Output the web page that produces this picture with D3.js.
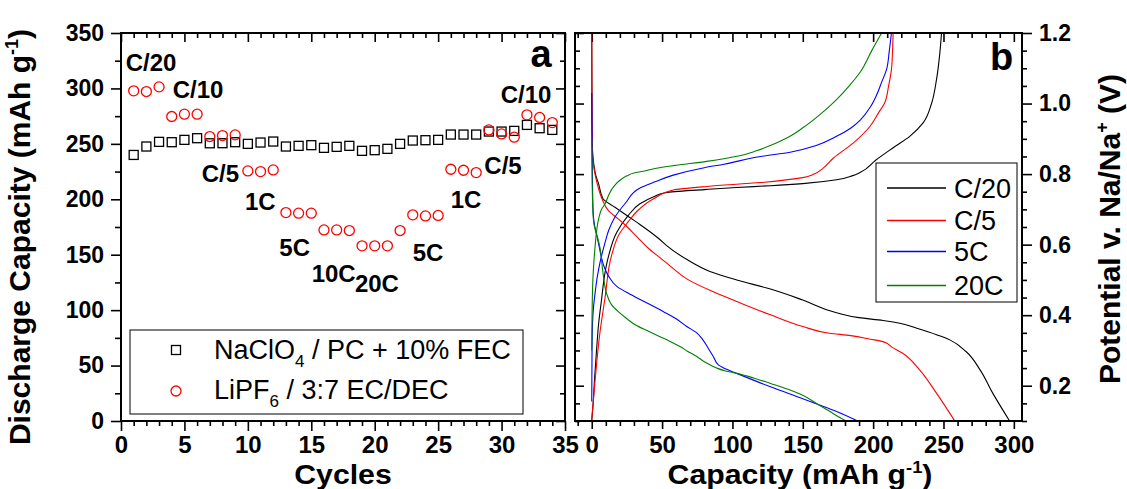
<!DOCTYPE html>
<html>
<head>
<meta charset="utf-8">
<script src="https://cdn.jsdelivr.net/npm/d3@7"></script>
<style>
  body { margin: 0; background: #fff; }
  svg { display: block; font-family: "Liberation Sans", Arial, sans-serif; }
</style>
</head>
<body>
<svg id="chart" width="1127" height="489"></svg>
<script>
// ---------- Panel a: discharge capacity vs cycle ----------
const cycles = [1,2,3,4,5,6,7,8,9,10,11,12,13,14,15,16,17,18,19,20,21,22,23,24,25,26,27,28,29,30,31,32,33,34];
const naClO4Capacity = [240, 247.6, 251.8, 251.5, 253.6, 255.1, 250.5, 250.6, 251.5, 250, 251.2, 252.1,
  247.6, 248.2, 248.8, 246.4, 247.3, 248.2, 243.7, 244.3, 245.5, 250, 253, 253.3, 253.6,
  258.4, 258.4, 258.4, 261.1, 261.1, 261.7, 267.1, 264.1, 262.6];
const liPF6Capacity = [297.8, 297.2, 301.4, 274.7, 276.8, 276.8, 256.6, 257.5, 258.1, 225.6, 225, 226.5,
  188, 187.5, 187.5, 172.4, 172.4, 171.8, 158, 158, 158, 171.8, 186, 185, 185.4,
  227.1, 226.2, 224.1, 262.6, 259, 256, 276.2, 273.8, 269.2];
const rateLabels = ["C/20", "C/10", "C/5", "1C", "5C", "10C", "20C", "5C", "1C", "C/5", "C/10"];
const rateLabelCycle = [0.37, 4.08, 6.36, 9.77, 12.48, 15.03, 18.44, 22.99, 25.99, 28.64, 29.93];
const rateLabelCapacity = [315.7, 291.4, 215.9, 190.0, 148.9, 125.1, 116.6, 144.6, 191.9, 222.8, 286.6];
const cycleTicks = [0, 5, 10, 15, 20, 25, 30, 35];
const capacityTicks = [0, 50, 100, 150, 200, 250, 300, 350];

// ---------- Panel b: potential profiles, [capacity, potential] ----------
const rateNames = ["C/20", "C/5", "5C", "20C"];
const rateColors = ["#000000", "#ff0000", "#0000ff", "#008000"];
const chargeC20 = [[0,0.1],[1,0.15],[2,0.22],[3.5,0.306],[5,0.38],[7.1,0.448],[9,0.51],[11.8,0.565],[17.8,0.635],
  [26,0.683],[34,0.715],[44,0.736],[53,0.748],[80,0.756],[103,0.762],[127,0.767],[150,0.773],[174,0.784],
  [185,0.795],[191,0.805],[202,0.84],[214,0.874],[226,0.907],[235.5,0.945],[241.5,1.0],[245,1.067],[247.4,1.143],[248.6,1.2]];
const dischargeC20 = [[0,1.2],[0.2,0.95],[0.5,0.87],[1.4,0.83],[3,0.795],[4.7,0.775],[8,0.73],[16.5,0.706],[27,0.677],
  [34,0.658],[48,0.616],[53,0.598],[68,0.557],[84,0.524],[103,0.5],[127,0.474],[150,0.443],[174,0.407],[190,0.393],
  [207,0.385],[219,0.377],[231,0.363],[254.5,0.33],[266,0.297],[276,0.245],[285,0.179],[297,0.1]];
const chargeC5 = [[0,0.105],[2.3,0.212],[5.9,0.353],[9.4,0.448],[14.2,0.571],[20,0.633],[26,0.665],[32,0.694],
  [44,0.73],[58,0.755],[82,0.765],[120,0.776],[141,0.785],[150,0.79],[158,0.8],[164.5,0.817],[171.6,0.845],
  [185.8,0.888],[197.7,0.935],[204,0.975],[208,1.0],[211,1.05],[213,1.096],[213.8,1.15],[214.2,1.2]];
const dischargeC5 = [[0,1.2],[0.2,0.95],[0.5,0.864],[1.2,0.826],[3.5,0.779],[7.1,0.732],[12,0.696],[16,0.682],
  [22,0.662],[32,0.623],[41,0.587],[48.5,0.563],[58,0.532],[67.5,0.503],[86,0.467],[103,0.439],[127,0.401],
  [150,0.368],[169,0.349],[184,0.342],[198,0.332],[207,0.325],[214,0.308],[221,0.292],[233,0.245],[245,0.179],[258,0.1]];
const charge5C = [[0,0.155],[0.2,0.3],[0.6,0.38],[1.2,0.42],[2.3,0.46],[4,0.51],[5.9,0.55],[9.4,0.605],[12,0.64],
  [16,0.675],[24,0.718],[34,0.76],[45,0.778],[58,0.797],[80,0.818],[94,0.828],[120,0.85],[141,0.862],[160,0.882],
  [174,0.907],[184,0.93],[191,0.954],[198,0.99],[202,1.02],[206,1.06],[209.5,1.096],[211.5,1.15],[213,1.2]];
const discharge5C = [[0,1.03],[0.2,0.9],[0.5,0.78],[1,0.69],[2,0.655],[3.5,0.628],[5,0.6],[7,0.562],[9,0.535],
  [12,0.51],[18,0.481],[28,0.458],[40,0.433],[51,0.41],[60,0.39],[67.5,0.368],[74,0.352],[79,0.33],[83,0.305],
  [86.4,0.283],[90,0.259],[95,0.248],[103,0.235],[127,0.197],[150,0.163],[160,0.148],[174,0.127],[189,0.1]];
const charge20C = [[0,0.3],[0.3,0.42],[0.8,0.5],[1.5,0.55],[2.5,0.6],[3.5,0.64],[5,0.675],[7,0.7],[9.4,0.715],
  [12,0.74],[15.3,0.763],[19,0.779],[25,0.795],[30,0.803],[36.6,0.808],[45,0.816],[58,0.824],[81.7,0.836],
  [105,0.852],[117,0.866],[127,0.881],[140,0.905],[150.3,0.932],[162,0.968],[174,1.011],[183,1.05],[191,1.09],
  [199,1.15],[206,1.2]];
const discharge20C = [[0,0.9],[0.3,0.78],[0.8,0.7],[1.5,0.66],[3,0.635],[4.5,0.615],[5.9,0.59],[8,0.52],[10.7,0.46],
  [14,0.43],[18.9,0.41],[25,0.39],[30.8,0.373],[40,0.355],[48.5,0.339],[55,0.327],[62.7,0.311],[68,0.298],
  [74.6,0.283],[81,0.266],[88.8,0.25],[95,0.242],[103,0.235],[115,0.222],[126.6,0.207],[140,0.189],[150.3,0.172],
  [160,0.149],[169.3,0.127],[175,0.113],[181,0.1]];
const profileSets = [[chargeC20, dischargeC20], [chargeC5, dischargeC5], [charge5C, discharge5C], [charge20C, discharge20C]];
const specificCapacityTicks = [0, 50, 100, 150, 200, 250, 300];
const potentialTicks = [0.2, 0.4, 0.6, 0.8, 1.0, 1.2];

const svg = d3.select("#chart");
const FONT = "'Liberation Sans', Arial, sans-serif";
const TITLE_SIZE = 30;
const X_TITLE_SIZE = 28;

function range(a, b, step) { const out = []; for (let v = a; v <= b + 1e-9; v += step) out.push(+v.toFixed(4)); return out; }

function styleAxis(g, fontSize) {
  g.select(".domain").remove();
  g.selectAll(".tick line").attr("stroke", "#000").attr("stroke-width", 1.6);
  g.selectAll(".tick text").attr("fill", "#000").attr("font-size", fontSize)
    .attr("font-weight", "bold").attr("font-family", FONT);
  g.attr("font-family", FONT);
}

function addAxis(axis, tx, ty, fontSize) {
  const g = svg.append("g").attr("transform", `translate(${tx},${ty})`).call(axis);
  styleAxis(g, fontSize);
  return g;
}

// ===== Panel a =====
const xA = d3.scaleLinear().domain([0, 35]).range([121, 565]);
const yA = d3.scaleLinear().domain([0, 350]).range([421, 33]);

const cycleMinor = range(0, 35, 1).filter(v => v % 5 !== 0);
const capMinor = range(0, 350, 25).filter(v => v % 50 !== 0);

addAxis(d3.axisLeft(yA).tickValues(capMinor).tickSize(6).tickFormat(""), 121, 0, 23);
addAxis(d3.axisLeft(yA).tickValues(capacityTicks).tickSize(10).tickPadding(7).tickFormat(d3.format("d")), 121, 0, 23);
addAxis(d3.axisRight(yA).tickValues(capMinor).tickSize(-5).tickFormat(""), 565, 0, 23);
addAxis(d3.axisRight(yA).tickValues(capacityTicks).tickSize(-9).tickFormat(""), 565, 0, 23);
addAxis(d3.axisBottom(xA).tickValues(cycleMinor).tickSize(5).tickFormat(""), 0, 421, 24);
addAxis(d3.axisBottom(xA).tickValues(cycleTicks).tickSize(10).tickPadding(5).tickFormat(d3.format("d")), 0, 421, 24);
addAxis(d3.axisTop(xA).tickValues(cycleMinor).tickSize(-5).tickFormat(""), 0, 33, 24);
addAxis(d3.axisTop(xA).tickValues(cycleTicks).tickSize(-9).tickFormat(""), 0, 33, 24);

svg.append("rect").attr("x", xA(0)).attr("y", yA(350)).attr("width", xA(35) - xA(0)).attr("height", yA(0) - yA(350))
  .attr("fill", "none").attr("stroke", "#000").attr("stroke-width", 2);

// NaClO4 series: open squares
const sq = 9;
svg.append("g").selectAll("rect").data(cycles).join("rect")
  .attr("x", d => xA(d) - sq / 2).attr("y", (d, i) => yA(naClO4Capacity[i]) - sq / 2)
  .attr("width", sq).attr("height", sq)
  .attr("fill", "none").attr("stroke", "#000").attr("stroke-width", 1.3);

// LiPF6 series: open circles
svg.append("g").selectAll("circle").data(cycles).join("circle")
  .attr("cx", d => xA(d)).attr("cy", (d, i) => yA(liPF6Capacity[i])).attr("r", 5)
  .attr("fill", "none").attr("stroke", "#ff0000").attr("stroke-width", 1.3);

// C-rate annotations
svg.append("g").selectAll("text").data(rateLabels).join("text")
  .attr("x", (d, i) => xA(rateLabelCycle[i])).attr("y", (d, i) => yA(rateLabelCapacity[i]))
  .attr("font-size", 24).attr("font-weight", "bold").attr("font-family", FONT).text(d => d);

svg.append("text").attr("x", xA(32.29)).attr("y", yA(319.6)).attr("font-size", 38).attr("font-weight", "bold")
  .attr("font-family", FONT).text("a");

// Legend, panel a
const legA = svg.append("g");
legA.append("rect").attr("x", 130).attr("y", 330).attr("width", 393).attr("height", 84)
  .attr("fill", "#fff").attr("stroke", "#000").attr("stroke-width", 1);
legA.append("rect").attr("x", 176 - sq / 2).attr("y", 350 - sq / 2).attr("width", sq).attr("height", sq)
  .attr("fill", "none").attr("stroke", "#000").attr("stroke-width", 1.3);
legA.append("circle").attr("cx", 176).attr("cy", 391).attr("r", 5)
  .attr("fill", "none").attr("stroke", "#ff0000").attr("stroke-width", 1.3);
const t1 = legA.append("text").attr("x", 214).attr("y", 359).attr("font-size", 27).attr("font-family", FONT);
t1.append("tspan").text("NaClO");
t1.append("tspan").attr("dy", 8).attr("font-size", 17).text("4");
t1.append("tspan").attr("dy", -8).text(" / PC + 10% FEC");
const t2 = legA.append("text").attr("x", 214).attr("y", 399).attr("font-size", 27).attr("font-family", FONT);
t2.append("tspan").text("LiPF");
t2.append("tspan").attr("dy", 8).attr("font-size", 17).text("6");
t2.append("tspan").attr("dy", -8).text(" / 3:7 EC/DEC");

// Axis titles, panel a
svg.append("text").attr("transform", `translate(${xA(17.5)},484) scale(1.08,1)`).attr("text-anchor", "middle")
  .attr("font-size", X_TITLE_SIZE).attr("font-weight", "bold").attr("font-family", FONT).text("Cycles");
const yTitleA = svg.append("text").attr("transform", "translate(30,237) rotate(-90)").attr("text-anchor", "middle")
  .attr("font-size", TITLE_SIZE).attr("font-weight", "bold").attr("font-family", FONT);
yTitleA.append("tspan").text("Discharge Capacity (mAh g");
yTitleA.append("tspan").attr("dy", -12).attr("font-size", 18).text("-1");
yTitleA.append("tspan").attr("dy", 12).text(")");

// ===== Panel b =====
const xB = d3.scaleLinear().domain([-11.9, 305.8]).range([575, 1022]);
const yB = d3.scaleLinear().domain([0.1, 1.2]).range([421, 33]);

const scMinor = range(-10, 300, 10).filter(v => v % 50 !== 0);
const potMinor = range(0.1, 1.2, 0.05).filter(v => Math.abs(v * 5 - Math.round(v * 5)) > 1e-6);

addAxis(d3.axisLeft(yB).tickValues(potMinor).tickSize(-5).tickFormat(""), 575, 0, 23);
addAxis(d3.axisLeft(yB).tickValues(potentialTicks).tickSize(-9).tickFormat(""), 575, 0, 23);
addAxis(d3.axisRight(yB).tickValues(potMinor).tickSize(5).tickFormat(""), 1022, 0, 23);
addAxis(d3.axisRight(yB).tickValues(potentialTicks).tickSize(10).tickPadding(7).tickFormat(d3.format(".1f")), 1022, 0, 23);
addAxis(d3.axisBottom(xB).tickValues(scMinor).tickSize(5).tickFormat(""), 0, 421, 24);
addAxis(d3.axisBottom(xB).tickValues(specificCapacityTicks).tickSize(8).tickPadding(7).tickFormat(d3.format("d")), 0, 421, 24);
addAxis(d3.axisTop(xB).tickValues(scMinor).tickSize(-5).tickFormat(""), 0, 33, 24);
addAxis(d3.axisTop(xB).tickValues(specificCapacityTicks).tickSize(-9).tickFormat(""), 0, 33, 24);

svg.append("defs").append("clipPath").attr("id", "clipB").append("rect")
  .attr("x", 575).attr("y", 33).attr("width", 1022 - 575).attr("height", 421 - 33);

// each profile is monotonic in potential, so interpolate along the potential axis
const lineB = d3.line().x(d => xB(d[0])).y(d => yB(d[1])).curve(d3.curveMonotoneY);
const curves = svg.append("g").attr("clip-path", "url(#clipB)");
profileSets.forEach((pair, i) => {
  pair.forEach(series => {
    curves.append("path").datum(series).attr("d", lineB)
      .attr("fill", "none").attr("stroke", rateColors[i]).attr("stroke-width", 1.1);
  });
});

svg.append("rect").attr("x", 575).attr("y", 33).attr("width", 1022 - 575).attr("height", 421 - 33)
  .attr("fill", "none").attr("stroke", "#000").attr("stroke-width", 2);

svg.append("text").attr("x", 990).attr("y", 70).attr("font-size", 38).attr("font-weight", "bold")
  .attr("font-family", FONT).text("b");

// Legend, panel b
const legB = svg.append("g");
legB.append("rect").attr("x", 876).attr("y", 163).attr("width", 141).attr("height", 139)
  .attr("fill", "#fff").attr("stroke", "#000").attr("stroke-width", 1);
const legRows = [188, 220.5, 251.5, 285.5];
rateNames.forEach((name, i) => {
  legB.append("line").attr("x1", 887).attr("x2", 946).attr("y1", legRows[i]).attr("y2", legRows[i])
    .attr("stroke", rateColors[i]).attr("stroke-width", 1.6);
  legB.append("text").attr("x", 954).attr("y", legRows[i] + 9.5).attr("font-size", 27)
    .attr("font-family", FONT).text(name);
});

// Axis titles, panel b
const xTitleB = svg.append("text").attr("transform", "translate(800,484) scale(1.08,1)").attr("text-anchor", "middle")
  .attr("font-size", X_TITLE_SIZE).attr("font-weight", "bold").attr("font-family", FONT);
xTitleB.append("tspan").text("Capacity (mAh g");
xTitleB.append("tspan").attr("dy", -11).attr("font-size", 17).text("-1");
xTitleB.append("tspan").attr("dy", 11).text(")");

const yTitleB = svg.append("text").attr("transform", "translate(1120,229) rotate(-90)").attr("text-anchor", "middle")
  .attr("font-size", TITLE_SIZE).attr("font-weight", "bold").attr("font-family", FONT);
yTitleB.append("tspan").text("Potential v. Na/Na");
yTitleB.append("tspan").attr("dy", -12).attr("font-size", 18).text("+");
yTitleB.append("tspan").attr("dy", 12).text(" (V)");
</script>
</body>
</html>
